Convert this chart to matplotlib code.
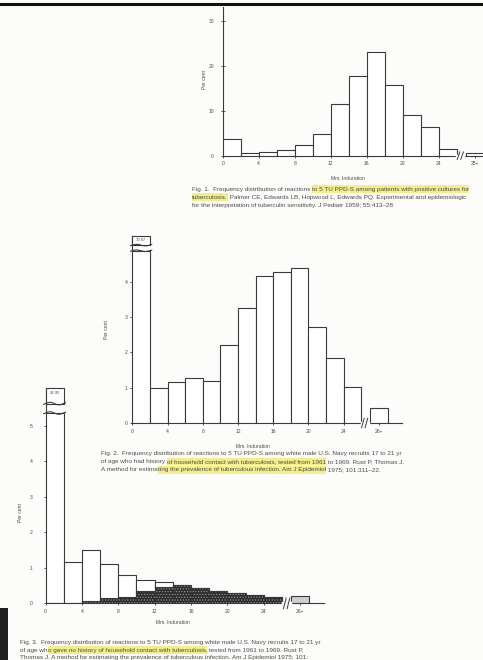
import numpy as np
import matplotlib
matplotlib.use("Agg")
import matplotlib.pyplot as plt
from matplotlib.patches import Rectangle
from matplotlib.lines import Line2D

W, H = 483, 660
plt.rcParams['font.family'] = ['Liberation Sans', 'DejaVu Sans']
plt.rcParams['hatch.linewidth'] = 0.5

# ---- data (per cent of reactors by mm of induration, 2 mm bins) ----
bin_lefts = [0, 2, 4, 6, 8, 10, 12, 14, 16, 18, 20, 22, 24, 27]   # last one = open-ended class

fig1_pct = [3.6, 0.7, 0.9, 1.3, 2.4, 4.9, 11.5, 17.6, 23.0, 15.7, 9.0, 6.4, 1.5, 0.7]
fig1_ticks = [0, 4, 8, 12, 16, 20, 24, 28]
fig1_ticklabels = ['0', '4', '8', '12', '16', '20', '24', '25+']
fig1_yticks = [0, 10, 20, 30]

fig2_pct = [70.87, 0.98, 1.17, 1.28, 1.18, 2.22, 3.26, 4.16, 4.27, 4.39, 2.71, 1.83, 1.03, 0.42]
fig2_ticks = [0, 4, 8, 12, 16, 20, 24, 28]
fig2_ticklabels = ['0', '4', '8', '12', '16', '20', '24', '26+']
fig2_yticks = [0, 1, 2, 3, 4]

fig3_pct = [92.95, 1.16, 1.50, 1.11, 0.80, 0.66, 0.61, 0.52, 0.43, 0.36, 0.28, 0.23, 0.17, 0.20]
fig3_dark = [0, 0, 0.07, 0.14, 0.19, 0.35, 0.47, 0.52, 0.43, 0.36, 0.28, 0.23, 0.17]
fig3_ticks = [0, 4, 8, 12, 16, 20, 24, 28]
fig3_ticklabels = ['0', '4', '8', '12', '16', '20', '24', '26+']
fig3_yticks = [0, 1, 2, 3, 4, 5]

cap1 = [
    ("Fig. 1.  Frequency distribution of reactions ", "to 5 TU PPD-S among patients with positive cultures for", ""),
    ("", "tuberculosis.", " Palmer CE, Edwards LB, Hopwood L, Edwards PQ. Experimental and epidemiologic basis"),
    ("for the interpretation of tuberculin sensitivity. J Pediatr 1959; 55:413\u201328", "", ""),
]
cap2 = [
    ("Fig. 2.  Frequency distribution of reactions to 5 TU PPD-S among white male U.S. Navy recruits 17 to 21 yr", "", ""),
    ("of age who had history ", "of household contact with tuberculosis, tested from 1961", " to 1969. Rust P, Thomas J."),
    ("A method for estima", "ting the prevalence of tuberculous infection. Am J Epidemiol", " 1975; 101:311\u201322."),
]
cap3 = [
    ("Fig. 3.  Frequency distribution of reactions to 5 TU PPD-S among white male U.S. Navy recruits 17 to 21 yr", "", ""),
    ("of age wh", "o gave no history of household contact with tuberculosis,", " tested from 1961 to 1969. Rust P,"),
    ("Thomas J. A method for estimating the prevalence of tuberculous infection. Am J Epidemiol 1975; 101:", "", ""),
]

ink = '#3a3a3a'
txt = '#4d4d4d'
hl = '#f3ee8a'

fig = plt.figure(figsize=(W / 100, H / 100), dpi=100, facecolor='#fcfcfb')


def fx(x):
    return x / W


def fy(y):
    return 1 - y / H


def px_axes(x0, y0, ux, uy, xmax, ymax):
    ax = fig.add_axes([fx(x0), fy(y0), xmax * ux / W, ymax * uy / H])
    ax.set_xlim(0, xmax)
    ax.set_ylim(0, ymax)
    ax.patch.set_alpha(0)
    return ax


def panel(ax, vals, cap, top_label, ticks, ticklabels, yticks, break_x, ylab_pad, last_fill='white'):
    ymax = ax.get_ylim()[1]
    shown = [min(v, cap) if cap else v for v in vals]
    faces = ['white'] * (len(vals) - 1) + [last_fill]
    ax.bar(bin_lefts, shown, width=2, align='edge', color=faces, edgecolor=ink, linewidth=0.8, zorder=3)
    if cap:
        gap = (ymax - cap) * 0.38
        ax.add_patch(Rectangle((bin_lefts[0], cap + gap), 2, ymax - cap - gap, facecolor='white',
                               edgecolor=ink, linewidth=0.8, zorder=3, clip_on=False))
        xs = np.linspace(bin_lefts[0] - 0.2, bin_lefts[0] + 2.2, 40)
        amp = (ymax - cap) * 0.05
        for base in (cap, cap + gap):
            ax.plot(xs, base + amp * np.sin(xs * 3.2), color=ink, lw=0.8, zorder=4, clip_on=False)
        ax.text(bin_lefts[0] + 1, ymax - (ymax - cap) * 0.12, top_label, ha='center', va='top',
                fontsize=3.0, color=txt, zorder=5)
    for s in ('top', 'right'):
        ax.spines[s].set_visible(False)
    for s in ('left', 'bottom'):
        ax.spines[s].set_color(ink)
        ax.spines[s].set_linewidth(0.8)
    ax.set_xticks(ticks)
    ax.set_xticklabels(ticklabels)
    ax.set_yticks(yticks)
    ax.tick_params(axis='x', direction='inout', length=3, width=0.6, colors=ink, labelsize=3.6,
                   labelcolor=txt, pad=2.5)
    ax.tick_params(axis='y', direction='inout', length=2.5, width=0.6, colors=ink, labelsize=3.6,
                   labelcolor=txt, pad=ylab_pad)
    # axis break before the open-ended class
    ax.plot([break_x - 0.35, break_x + 0.35], [0, 0], color='white', lw=2.5, zorder=5, clip_on=False)
    dy = ymax * 0.025
    for off in (-0.2, 0.2):
        ax.plot([break_x + off - 0.15, break_x + off + 0.15], [-dy, dy], color=ink, lw=0.7,
                zorder=6, clip_on=False)


def caption(x, y0, lines, size=4.6, step=8.2):
    r = fig.canvas.get_renderer()
    for i, (a, b, c) in enumerate(lines):
        y = y0 + i * step
        cx = x
        for part, mark in ((a, False), (b, True), (c, False)):
            if not part:
                continue
            t = fig.text(fx(cx), fy(y), part, fontsize=size, color=txt, ha='left', va='center', zorder=5)
            w = t.get_window_extent(r).width
            # the scan crops the page on the right: drop words that would run off
            while cx + w > W - 2 and ' ' in part.strip():
                part = part.rstrip().rsplit(' ', 1)[0]
                t.set_text(part)
                w = t.get_window_extent(r).width
            if mark:
                wm = w if cx + w < W - 8 else W - cx
                fig.add_artist(Rectangle((fx(cx), fy(y + 3.8)), wm / W, 7.6 / H, transform=fig.transFigure,
                                         facecolor=hl, edgecolor='none', zorder=1))
            cx += w


# ---- Fig. 1 ----
ax1 = px_axes(222.7, 155.7, 9.0, 4.5, 29.4, 33)
panel(ax1, fig1_pct, None, '', fig1_ticks, fig1_ticklabels, fig1_yticks, 26.4, 5)
fig.text(fx(205), fy(80), 'Per cent', rotation=90, fontsize=3.6, color=txt, ha='center', va='center')
fig.text(fx(348), fy(178), 'Mm. Induration', fontsize=3.6, color=txt, ha='center', va='center')
caption(192, 189, cap1)

# ---- Fig. 2 ----
ax2 = px_axes(132.3, 423, 8.8, 35.3, 30.7, 5.3)
panel(ax2, fig2_pct, 4.88, '70.87', fig2_ticks, fig2_ticklabels, fig2_yticks, 26.4, 2)
fig.text(fx(107), fy(330), 'Per cent', rotation=90, fontsize=3.6, color=txt, ha='center', va='center')
fig.text(fx(253), fy(447), 'Mm. Induration', fontsize=3.6, color=txt, ha='center', va='center')
caption(101, 453.3, cap2)

# ---- Fig. 3 ----
ax3 = px_axes(45.5, 603.3, 9.1, 35.5, 30.6, 6.06)
panel(ax3, fig3_pct, 5.36, '92.95', fig3_ticks, fig3_ticklabels, fig3_yticks, 26.5, 8, last_fill='#cfcfcf')
n = len(fig3_dark)
ax3.bar(bin_lefts[:n], fig3_dark, width=2, align='edge', color='#2c2c2c', edgecolor='#a0a0a0',
        hatch='......', linewidth=0, zorder=4)
ax3.bar(bin_lefts[:n], fig3_dark, width=2, align='edge', color='none', edgecolor=ink, linewidth=0.8, zorder=4)
fig.text(fx(20), fy(513), 'Per cent', rotation=90, fontsize=3.6, color=txt, ha='center', va='center')
fig.text(fx(173), fy(623), 'Mm. Induration', fontsize=3.6, color=txt, ha='center', va='center')
caption(20, 642.5, cap3, step=7.6)

# scan artefacts: dark rule at the top and the dark corner bottom-left
fig.add_artist(Line2D([0, 1], [fy(4), fy(4)], color='#111111', lw=2.2, transform=fig.transFigure))
fig.add_artist(Rectangle((0, 0), fx(8), 52 / H, transform=fig.transFigure, facecolor='#1e1e1e',
                         edgecolor='none'))

fig.savefig('out.png', dpi=100, facecolor=fig.get_facecolor())
